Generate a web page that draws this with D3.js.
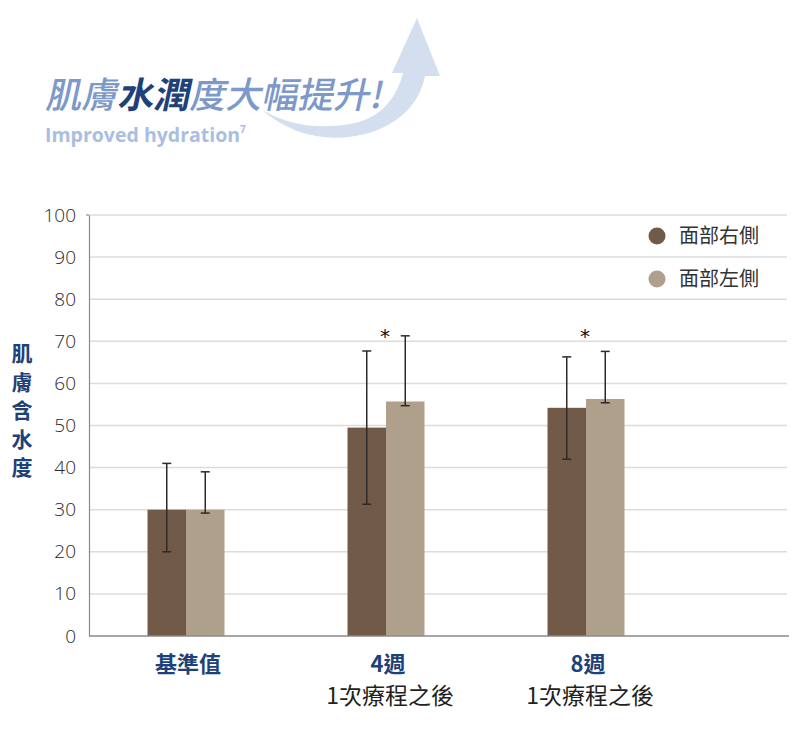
<!DOCTYPE html>
<html>
<head>
<meta charset="utf-8">
<script src="https://cdn.jsdelivr.net/npm/d3@7"></script>
<style>
  body { margin: 0; background: #fff; }
  svg { display: block; }
</style>
</head>
<body>
<div id="chart"></div>
<script>
// data
var categories = ["基準值", "4週", "8週"];
var subLabels = ["", "1次療程之後", "1次療程之後"];
var seriesNames = ["面部右側", "面部左側"];
var rightValues = [30, 49.5, 54.2];
var leftValues = [30, 55.7, 56.3];
var rightLow = [20, 31.3, 42.0];
var rightHigh = [41, 67.7, 66.3];
var leftLow = [29.2, 54.7, 55.4];
var leftHigh = [39, 71.3, 67.6];
var significant = [false, true, true];
var yTicks = [0, 10, 20, 30, 40, 50, 60, 70, 80, 90, 100];

var colors = ["#725a48", "#afa08b"];
var blue = "#1e4179";

var width = 810, height = 734;
var svg = d3.select("#chart").append("svg")
    .attr("width", width)
    .attr("height", height);

// title swoosh arrow
svg.append("path")
    .attr("d", "M262,110 C292,136 330,143 365,134 C400,125 420,102 425,76 L440,76 L417,18 L392,73 L403,73 C396,100 380,117 355,123 C320,130 290,126 262,110 Z")
    .attr("fill", "#d3deef");

// title text (slanted)
var title = svg.append("text")
    .attr("transform", "translate(45,108) skewX(-12)")
    .attr("font-family", "'Noto Sans CJK TC', sans-serif")
    .attr("font-size", 36)
    .attr("font-weight", 500);
title.append("tspan").attr("fill", "#7d99c9").text("肌膚");
title.append("tspan").attr("fill", blue).attr("font-weight", 700).text("水潤");
title.append("tspan").attr("fill", "#7d99c9").text("度大幅提升!");

var sub = svg.append("text")
    .attr("x", 45)
    .attr("y", 142)
    .attr("font-family", "'Open Sans', sans-serif")
    .attr("font-size", 19.5)
    .attr("font-weight", 700)
    .attr("fill", "#a9bee3");
sub.append("tspan").text("Improved hydration");
sub.append("tspan").attr("font-size", 10).attr("dy", -9).text("7");

// scales
var x0 = 89, x1 = 789, yTop = 215, yBottom = 636;
var x = d3.scaleBand().domain(categories).range([86, 686]);
var y = d3.scaleLinear().domain([0, 100]).range([yBottom, yTop]);
var barW = 38.5;

// gridlines
svg.append("g")
    .selectAll("line")
    .data(yTicks.filter(d => d > 0))
    .join("line")
    .attr("x1", x0)
    .attr("x2", 787)
    .attr("y1", d => y(d))
    .attr("y2", d => y(d))
    .attr("stroke", "#dcdcdc")
    .attr("stroke-width", 1.5);

// y axis
var yAxis = d3.axisLeft(y).tickValues(yTicks).tickSize(0).tickPadding(13);
var gy = svg.append("g")
    .attr("transform", `translate(${x0},0)`)
    .call(yAxis);
gy.select(".domain").attr("stroke", "#8a8a8a").attr("stroke-width", 1.2);
gy.selectAll("text")
    .attr("font-family", "'Open Sans', sans-serif")
    .attr("font-weight", 300)
    .attr("font-size", 19)
    .attr("fill", "#2a2a2a");
svg.append("line")
    .attr("x1", x0 - 3).attr("x2", x0)
    .attr("y1", y(100)).attr("y2", y(100))
    .attr("stroke", "#8a8a8a").attr("stroke-width", 1.2);

// bars
var groups = svg.append("g")
    .selectAll("g")
    .data(categories)
    .join("g")
    .attr("transform", d => `translate(${x(d) + x.bandwidth() / 2},0)`);

var series = [
    { vals: rightValues, low: rightLow, high: rightHigh, off: -barW },
    { vals: leftValues, low: leftLow, high: leftHigh, off: 0 }
];

series.forEach((s, si) => {
    groups.append("rect")
        .attr("x", s.off)
        .attr("width", barW)
        .attr("y", (d, i) => y(s.vals[i]))
        .attr("height", (d, i) => yBottom - y(s.vals[i]))
        .attr("fill", colors[si]);
});

// x baseline
svg.append("line")
    .attr("x1", x0).attr("x2", x1)
    .attr("y1", yBottom).attr("y2", yBottom)
    .attr("stroke", "#8a8a8a").attr("stroke-width", 1.5);

// error bars
series.forEach((s) => {
    var cx = s.off + barW / 2;
    var eb = groups.append("g").attr("stroke", "#2e2a28").attr("stroke-width", 1.5);
    eb.append("line")
        .attr("x1", cx).attr("x2", cx)
        .attr("y1", (d, i) => y(s.low[i]))
        .attr("y2", (d, i) => y(s.high[i]));
    eb.append("line")
        .attr("x1", cx - 4.5).attr("x2", cx + 4.5)
        .attr("y1", (d, i) => y(s.low[i]))
        .attr("y2", (d, i) => y(s.low[i]));
    eb.append("line")
        .attr("x1", cx - 4.5).attr("x2", cx + 4.5)
        .attr("y1", (d, i) => y(s.high[i]))
        .attr("y2", (d, i) => y(s.high[i]));
});

// significance stars, all at the same height near the tallest error bar
var starY = y(d3.max(leftHigh.concat(rightHigh))) + 7;
groups.filter((d, i) => significant[i])
    .append("text")
    .attr("x", -1)
    .attr("y", starY)
    .attr("text-anchor", "middle")
    .attr("font-family", "'DejaVu Sans', sans-serif")
    .attr("font-size", 20)
    .attr("fill", "#111")
    .text("*");

// x labels
groups.append("text")
    .attr("y", 672)
    .attr("x", 2)
    .attr("text-anchor", "middle")
    .attr("font-family", "'Noto Sans CJK TC', sans-serif")
    .attr("font-weight", 700)
    .attr("font-size", 22)
    .attr("fill", blue)
    .text(d => d);
groups.append("text")
    .attr("y", 704)
    .attr("x", 4)
    .attr("text-anchor", "middle")
    .attr("font-family", "'Noto Sans CJK TC', sans-serif")
    .attr("font-weight", 400)
    .attr("font-size", 23)
    .attr("fill", "#231f20")
    .text((d, i) => subLabels[i]);

// y label, vertical characters
svg.append("g")
    .selectAll("text")
    .data("肌膚含水度".split(""))
    .join("text")
    .attr("x", 22)
    .attr("y", (d, i) => 361 + i * 28.5)
    .attr("text-anchor", "middle")
    .attr("font-family", "'Noto Sans CJK TC', sans-serif")
    .attr("font-weight", 700)
    .attr("font-size", 21)
    .attr("fill", blue)
    .text(d => d);

// legend
var legend = svg.append("g")
    .selectAll("g")
    .data(seriesNames)
    .join("g")
    .attr("transform", (d, i) => `translate(657,${236 + i * 43})`);
legend.append("circle")
    .attr("r", 8.5)
    .attr("fill", (d, i) => colors[i]);
legend.append("text")
    .attr("x", 22)
    .attr("y", 7)
    .attr("font-family", "'Noto Sans CJK TC', sans-serif")
    .attr("font-size", 20)
    .attr("fill", "#333")
    .text(d => d);
</script>
</body>
</html>
